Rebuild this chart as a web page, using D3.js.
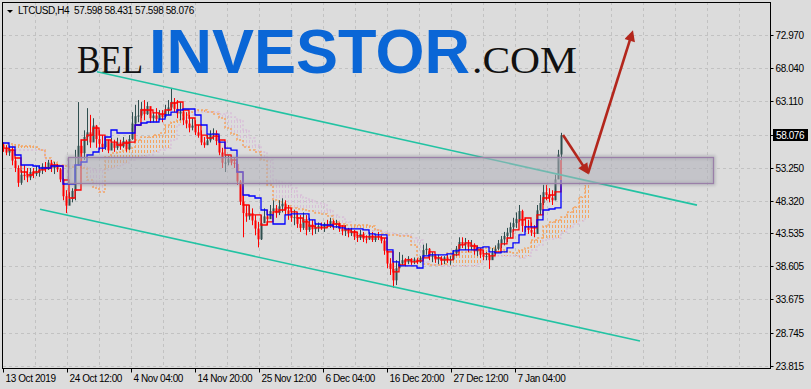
<!DOCTYPE html>
<html>
<head>
<meta charset="utf-8">
<script src="https://cdn.jsdelivr.net/npm/d3@7"></script>
<style>
  html, body { margin: 0; padding: 0; background: #dcdcdc; }
  svg { display: block; font-family: "Liberation Sans", Arial, sans-serif; }
  .axis text { font-size: 10px; letter-spacing: -0.4px; fill: #000; }
  .axis line { stroke: #000; }
</style>
</head>
<body>
<div id="chart"></div>
<script>
// ---- data ----
const symbolTitle = "LTCUSD,H4";
const lastBarOHLC = [57.598, 58.431, 57.598, 58.076];
const lastPrice = 58.076;
const priceTicks = [72.970, 68.040, 63.110, 53.250, 48.320, 43.535, 38.605, 33.675, 28.745, 23.815];
const timeLabels = ["13 Oct 2019", "24 Oct 12:00", "4 Nov 04:00", "14 Nov 20:00", "25 Nov 12:00",
  "6 Dec 04:00", "16 Dec 20:00", "27 Dec 12:00", "7 Jan 04:00"];
const barsPerLabel = 64;   // H4 bars between time labels
const barsPerGrid = 32;

// candles, one per 3 H4 bars
const candleStep = 3;
const firstOpen = 56.6;
const highs = [
  57.0,56.6,56.5,56.3,54.8,53.6,52.9,53.6,53.2,53.2,
  53.2,53.5,53.6,53.9,54.1,54.4,54.4,54.1,53.8,53.2,
  51.7,49.9,49.6,50.2,55.9,63.0,57.4,58.8,62.1,61.1,
  60.6,59.6,58.8,58.1,57.7,57.4,57.7,57.4,57.7,57.4,
  57.8,57.4,58.1,61.5,62.6,63.3,63.0,63.3,63.0,61.8,
  61.5,62.1,61.8,61.8,62.6,63.3,65.1,63.6,63.3,63.0,
  61.8,61.5,61.1,60.6,60.3,59.6,58.8,57.8,58.1,58.8,
  59.1,58.8,57.4,56.2,55.1,55.1,55.1,54.7,53.6,51.4,
  49.2,47.7,47.7,47.2,46.2,45.2,46.2,47.2,47.0,47.7,
  48.4,47.7,48.4,48.7,48.4,47.7,47.2,47.0,46.6,46.2,
  46.6,46.2,45.8,45.5,45.1,45.1,45.1,45.1,45.5,45.8,
  45.5,45.5,45.1,44.7,44.7,44.3,44.3,44.0,43.7,44.0,
  43.7,43.2,43.7,43.7,43.2,43.7,43.2,42.8,41.0,39.8,
  39.2,39.5,40.7,40.3,39.8,40.1,39.8,39.9,39.8,40.1,
  41.8,42.0,41.3,40.7,40.4,40.3,40.1,40.1,40.3,40.1,
  41.0,41.6,42.9,42.9,42.8,42.5,42.5,42.0,41.7,41.3,
  41.0,40.7,40.5,41.3,41.7,42.5,43.1,43.7,44.3,45.1,
  45.8,46.6,47.7,47.0,45.8,45.5,45.1,44.7,47.7,49.2,
  50.7,50.7,50.2,49.9,52.2,55.9,58.43];
const lows = [
  55.6,55.1,55.0,53.6,52.6,50.4,50.7,51.4,51.1,51.4,
  51.7,52.0,51.9,52.3,52.6,52.9,52.6,52.3,52.6,51.1,
  48.4,46.5,47.7,48.1,48.4,53.6,54.1,54.4,56.6,56.2,
  57.4,56.2,55.9,55.6,55.9,55.4,55.9,55.6,55.9,55.9,
  56.2,55.6,55.9,57.4,58.8,60.0,60.6,60.3,61.1,59.9,
  60.0,60.0,60.3,60.0,60.6,61.1,61.8,61.5,60.6,60.3,
  59.6,59.1,58.5,58.8,58.1,57.7,56.6,56.2,56.6,57.0,
  57.4,56.6,55.1,53.2,52.6,53.6,53.6,53.2,50.7,47.7,
  42.9,45.2,45.5,44.7,43.2,41.4,42.5,45.2,44.7,45.8,
  46.2,45.8,46.2,46.6,46.2,45.5,45.2,44.7,44.3,43.7,
  44.0,43.2,43.7,43.2,43.4,43.7,44.0,43.7,44.3,44.3,
  44.0,44.3,43.7,43.2,43.1,42.9,43.1,42.5,42.2,42.5,
  42.2,42.0,42.5,42.2,42.2,42.5,42.0,40.3,38.3,37.3,
  35.4,35.8,38.3,38.8,38.6,38.9,38.8,38.9,38.9,39.1,
  39.5,40.3,39.5,39.2,39.1,38.9,38.8,38.9,39.1,38.8,
  39.5,40.1,41.0,41.3,41.0,40.7,41.0,40.3,40.1,39.8,
  39.5,39.5,38.2,39.8,40.3,41.0,41.3,41.7,42.2,42.8,
  43.7,44.3,45.2,43.7,43.7,43.4,43.1,42.9,44.3,46.2,
  47.7,48.4,48.1,47.7,48.4,51.7,54.4];
const closes = [
  56.2,55.5,56.0,54.3,53.2,51.0,52.2,52.0,51.8,52.6,
  52.3,52.5,52.9,53.4,53.0,54.0,53.2,53.6,53.0,51.5,
  49.0,47.6,48.6,49.8,53.6,56.5,55.4,57.8,58.5,57.0,
  59.5,57.5,56.8,56.3,57.2,55.8,56.9,56.2,57.0,56.4,
  57.2,56.0,57.5,59.8,60.9,61.0,62.0,61.2,62.4,60.6,
  61.0,60.5,61.2,60.8,61.7,62.2,63.0,62.0,61.3,61.6,
  60.3,59.8,59.2,59.5,58.5,58.0,57.0,56.6,57.3,58.2,
  58.4,57.2,55.5,54.0,54.0,54.5,54.0,53.8,51.2,48.2,
  46.5,46.0,46.5,45.4,44.2,42.6,45.0,46.0,45.6,46.8,
  47.2,46.5,47.5,47.9,46.9,46.2,45.8,45.9,44.9,44.3,
  45.6,44.0,44.8,44.1,44.4,44.6,44.3,44.9,44.6,45.3,
  44.8,45.0,44.2,43.8,44.1,43.5,43.8,43.0,42.8,43.4,
  42.7,42.6,43.2,42.5,43.0,42.9,42.4,40.9,39.0,38.2,
  36.5,38.3,39.0,39.5,39.2,39.7,39.3,39.6,39.2,39.8,
  41.0,41.2,40.0,40.2,39.6,39.8,39.4,39.9,39.5,39.6,
  40.5,41.2,42.2,41.8,42.0,41.5,41.8,40.8,41.2,40.3,
  40.0,40.1,39.5,40.6,41.2,42.0,42.6,43.1,43.6,44.4,
  45.0,45.6,46.8,44.6,44.4,44.0,43.6,43.4,46.9,48.0,
  49.6,49.2,48.8,48.4,51.5,55.2,58.076];

// Ichimoku lines, one reading per 6 H4 bars
const lineStep = 6;
const tenkan = [
  56.17,55.87,54.69,52.61,52.16,52.61,52.91,53.20,53.65,53.50,
  51.42,48.74,49.93,57.36,58.10,59.15,58.10,57.36,57.06,56.62,
  56.92,57.06,59.59,61.82,61.82,61.38,61.23,61.82,62.86,63.01,
  61.82,60.63,59.59,58.10,57.66,57.95,57.36,55.13,54.39,52.61,
  47.70,46.22,46.22,44.73,45.18,46.67,46.96,47.26,46.67,45.77,
  45.18,44.58,44.29,44.29,44.58,44.88,44.58,43.99,43.69,43.10,
  42.95,42.95,42.95,42.80,40.72,37.75,38.79,39.53,39.24,39.39,
  39.83,40.72,39.83,39.53,39.53,40.28,41.76,42.06,41.61,41.02,
  40.43,40.13,40.72,41.91,42.80,43.99,45.48,45.77,44.29,46.22,
  48.74,49.19,49.64,54.39];
const kijun = [
  56.92,56.32,55.13,53.65,53.65,53.50,53.20,53.20,53.50,53.50,
  50.82,50.82,53.65,54.09,55.13,55.58,56.17,57.81,58.85,58.40,
  58.40,58.40,59.59,59.89,60.04,60.04,60.48,61.08,61.52,61.82,
  61.97,61.97,61.08,59.59,58.25,58.25,57.06,56.17,55.87,52.61,
  49.19,49.04,48.74,46.96,46.22,44.88,44.88,46.22,46.37,46.37,
  46.37,45.48,44.88,44.73,44.73,44.44,44.29,44.14,44.14,44.14,
  43.99,43.40,43.25,43.25,41.02,39.24,38.64,38.64,38.64,38.34,
  40.13,40.28,40.28,40.28,40.43,40.87,41.02,41.02,41.02,41.32,
  41.47,40.72,40.58,40.72,41.32,42.06,43.25,44.44,44.44,45.48,
  46.96,47.11,47.26,51.42];
const spanA = [
  56.77,56.77,56.62,56.47,56.47,56.32,55.87,54.69,54.09,53.65,
  53.50,53.35,53.65,53.20,51.42,50.23,49.64,54.84,55.43,55.58,
  55.87,56.17,57.36,57.81,57.81,58.10,58.40,59.59,60.04,60.33,
  61.08,61.52,61.82,61.82,61.52,61.23,60.63,59.15,58.25,57.36,
  56.32,55.87,55.58,54.39,50.68,48.45,48.15,47.56,47.26,47.11,
  46.96,46.81,46.52,46.37,46.07,45.18,44.88,44.73,44.73,44.73,
  44.73,44.58,43.99,43.40,43.25,43.25,43.10,43.10,41.76,39.83,
  38.94,38.79,38.79,38.94,40.58,40.72,40.72,40.72,41.02,41.32,
  41.32,41.32,41.32,41.02,40.72,40.58,41.02,41.32,42.50,42.80,
  44.58,45.18,45.48,45.92,46.67,47.41,48.89,50.68];
const spanB = [
  55.87,55.87,55.87,55.87,55.87,55.87,55.87,54.39,53.80,53.65,
  53.65,53.65,53.65,53.65,53.20,52.91,52.91,52.91,53.20,53.50,
  53.94,54.39,54.69,54.98,55.13,55.58,55.87,56.17,57.36,59.59,
  60.63,61.08,61.52,61.52,61.52,61.52,61.23,61.38,60.78,60.33,
  58.85,57.66,56.62,55.58,54.39,51.42,51.12,50.97,50.23,49.19,
  48.74,48.45,48.00,47.85,46.96,46.22,45.92,45.18,44.29,44.14,
  43.99,43.84,43.99,43.69,43.55,43.40,43.25,43.25,42.80,42.50,
  39.24,38.79,38.79,38.64,38.64,38.64,38.64,38.64,38.64,38.94,
  39.53,39.83,40.13,40.13,40.13,40.13,39.83,40.13,41.02,41.76,
  42.50,42.65,42.80,43.69,44.29,44.88,45.33,45.77];

// drawn objects: [bar, price]
const upperChannel = [[94, 67.52], [694, 47.68]];
const lowerChannel = [[37, 47.07], [637, 27.50]];
const zoneBars = [65, 710];
const zonePrices = [50.93, 54.79];
const arrowPaths = [
  [[560, 58.10], [584, 52.66]],
  [[585, 52.42], [629, 73.22]]
];

// ---- layout ----
const width = 811, height = 389;
const frame = {left: 3, top: 2, right: 771, bottom: 368};
const barsShown = frame.right - frame.left;   // one pixel per H4 bar

const x = d3.scaleLinear().domain([0, barsShown]).range([frame.left, frame.right]);
const y = d3.scaleLinear().domain([23.815, 72.970]).range([365.7, 35]);
const px = v => Math.round(v) + 0.5;

const svg = d3.select("#chart").append("svg")
  .attr("width", width)
  .attr("height", height);

svg.append("rect").attr("width", width).attr("height", height).attr("fill", "#dcdcdc");

const defs = svg.append("defs");
defs.append("clipPath").attr("id", "plot-clip")
  .append("rect")
  .attr("x", frame.left).attr("y", frame.top)
  .attr("width", frame.right - frame.left).attr("height", frame.bottom - frame.top);

const blur = defs.append("filter").attr("id", "zone-blur")
  .attr("x", "-5%").attr("y", "-40%").attr("width", "110%").attr("height", "180%");
blur.append("feGaussianBlur").attr("stdDeviation", 1.6);

defs.append("marker")
  .attr("id", "arrow-head")
  .attr("viewBox", "0 0 10 10")
  .attr("refX", 7).attr("refY", 5)
  .attr("markerWidth", 13).attr("markerHeight", 11)
  .attr("markerUnits", "userSpaceOnUse")
  .attr("orient", "auto")
  .append("path")
  .attr("d", "M0,0L10,5L0,10Z")
  .attr("fill", "#b3261c");

// grid
const grid = svg.append("g").attr("stroke", "#c2c2c2").attr("stroke-dasharray", "3,3");
grid.selectAll("line.h")
  .data(priceTicks.concat([lastPrice]))
  .join("line")
  .attr("x1", frame.left).attr("x2", frame.right)
  .attr("y1", d => px(y(d))).attr("y2", d => px(y(d)));
grid.selectAll("line.v")
  .data(d3.range(barsPerGrid, barsShown, barsPerGrid))
  .join("line")
  .attr("x1", d => px(x(d))).attr("x2", d => px(x(d)))
  .attr("y1", frame.top).attr("y2", frame.bottom);

// site logo
const logo = svg.append("g");
logo.append("text")
  .attr("x", 77).attr("y", 73)
  .attr("font-family", "'Liberation Serif', 'DejaVu Serif', serif")
  .attr("font-size", 40)
  .attr("textLength", 66).attr("lengthAdjust", "spacingAndGlyphs")
  .attr("fill", "#111")
  .text("BEL");
logo.append("text")
  .attr("x", 149).attr("y", 73)
  .attr("font-family", "'Liberation Sans', Arial, sans-serif")
  .attr("font-weight", 700)
  .attr("font-size", 63)
  .attr("textLength", 321).attr("lengthAdjust", "spacingAndGlyphs")
  .attr("fill", "#0a66d6")
  .text("INVESTOR");
logo.append("text")
  .attr("x", 472).attr("y", 73)
  .attr("font-family", "'Liberation Serif', 'DejaVu Serif', serif")
  .attr("font-size", 38)
  .attr("textLength", 105).attr("lengthAdjust", "spacingAndGlyphs")
  .attr("fill", "#111")
  .text(".COM");

const plot = svg.append("g").attr("clip-path", "url(#plot-clip)");

// Ichimoku cloud: dotted hatch between span A and span B,
// dashes lined up on a common vertical phase so rows of dots form
const hatch = d3.range(0, spanA.length * lineStep, 3).map(b => {
  const k = Math.floor(b / lineStep);
  return {bar: b, a: spanA[k], b: spanB[k]};
});
const dashPeriod = 5;
plot.append("g")
  .attr("stroke-dasharray", "3,2")
  .selectAll("line")
  .data(hatch)
  .join("line")
  .attr("x1", d => px(x(d.bar))).attr("x2", d => px(x(d.bar)))
  .attr("y1", d => Math.min(y(d.a), y(d.b)))
  .attr("y2", d => Math.max(y(d.a), y(d.b)))
  .attr("stroke-dashoffset", d => Math.min(y(d.a), y(d.b)) % dashPeriod)
  .attr("stroke", d => d.a >= d.b ? "#f4a460" : "#d8bfd8");

const stepLine = d3.line()
  .x((d, k) => x(k * lineStep))
  .y(d => y(d))
  .curve(d3.curveStepAfter);

plot.append("path").datum(spanB)
  .attr("d", stepLine).attr("fill", "none")
  .attr("stroke", "#d8bfd8").attr("stroke-width", 1.5).attr("stroke-dasharray", "2,2");
plot.append("path").datum(spanA)
  .attr("d", stepLine).attr("fill", "none")
  .attr("stroke", "#f4a460").attr("stroke-width", 1.5).attr("stroke-dasharray", "2,2");

// candles
const candles = closes.map((c, i) => ({
  bar: i * candleStep,
  o: i ? closes[i - 1] : firstOpen,
  h: highs[i], l: lows[i], c: c
}));
const candleColor = d => d.c >= d.o ? "#2f4f4f" : "#ff0000";

const cg = plot.append("g");
cg.selectAll("line")
  .data(candles)
  .join("line")
  .attr("x1", d => px(x(d.bar))).attr("x2", d => px(x(d.bar)))
  .attr("y1", d => y(d.h)).attr("y2", d => y(d.l))
  .attr("stroke", candleColor);
cg.selectAll("rect")
  .data(candles)
  .join("rect")
  .attr("x", d => Math.round(x(d.bar)) - 0.5)
  .attr("width", 2)
  .attr("y", d => y(Math.max(d.o, d.c)))
  .attr("height", d => Math.max(1, Math.abs(y(d.o) - y(d.c))))
  .attr("fill", candleColor);

// tenkan / kijun
plot.append("path").datum(tenkan)
  .attr("d", stepLine).attr("fill", "none")
  .attr("stroke", "#ff0000").attr("stroke-width", 1.3);
plot.append("path").datum(kijun)
  .attr("d", stepLine).attr("fill", "none")
  .attr("stroke", "#0000ff").attr("stroke-width", 1.3);

// trend channel
const trend = d3.line().x(d => x(d[0])).y(d => y(d[1]));
[upperChannel, lowerChannel].forEach(ch => {
  plot.append("path").datum(ch)
    .attr("d", trend)
    .attr("stroke", "#22c3a3").attr("stroke-width", 1.6).attr("fill", "none");
});

// resistance zone
const zx = x(zoneBars[0]), zw = x(zoneBars[1]) - x(zoneBars[0]);
const zy = y(zonePrices[1]), zh = y(zonePrices[0]) - y(zonePrices[1]);
plot.append("rect")
  .attr("x", px(zx)).attr("y", px(zy)).attr("width", Math.round(zw)).attr("height", Math.round(zh))
  .attr("fill", "none").attr("stroke", "#8a8a96").attr("stroke-width", 4)
  .attr("opacity", 0.45).attr("filter", "url(#zone-blur)");
plot.append("rect")
  .attr("x", px(zx)).attr("y", px(zy)).attr("width", Math.round(zw)).attr("height", Math.round(zh))
  .attr("fill", "#b0b0ba").attr("fill-opacity", 0.55)
  .attr("stroke", "#9a7fa8").attr("stroke-width", 1.2);

// arrows
arrowPaths.forEach(a => {
  plot.append("path").datum(a)
    .attr("d", trend)
    .attr("stroke", "#b3261c").attr("stroke-width", 2.6).attr("fill", "none")
    .attr("marker-end", "url(#arrow-head)");
});

// frame
svg.append("rect")
  .attr("x", frame.left - 0.5).attr("y", frame.top + 0.5)
  .attr("width", frame.right - frame.left).attr("height", frame.bottom - frame.top)
  .attr("fill", "none").attr("stroke", "#000");

// price axis
const yAxis = svg.append("g")
  .attr("class", "axis")
  .attr("transform", "translate(" + (frame.right - 0.5) + ",0)")
  .call(d3.axisRight(y).tickValues(priceTicks).tickFormat(d3.format(".3f")).tickSize(3).tickPadding(2));
yAxis.select(".domain").remove();
yAxis.selectAll(".tick").attr("transform", d => "translate(0," + px(y(d)) + ")");

// current price tag
const tagY = px(y(lastPrice));
svg.append("line")
  .attr("x1", frame.right - 0.5).attr("x2", frame.right + 2.5)
  .attr("y1", tagY).attr("y2", tagY).attr("stroke", "#000");
svg.append("rect")
  .attr("x", 773).attr("y", tagY - 6.5).attr("width", 35).attr("height", 12)
  .attr("fill", "#000");
svg.append("text")
  .attr("class", "axis")
  .attr("x", 776).attr("y", tagY).attr("dy", "0.34em")
  .attr("font-size", 10).attr("letter-spacing", "-0.4px")
  .attr("fill", "#fff")
  .text(d3.format(".3f")(lastPrice));

// time axis
const xAxis = svg.append("g")
  .attr("class", "axis")
  .attr("transform", "translate(0," + (frame.bottom + 0.5) + ")")
  .call(d3.axisBottom(x)
    .tickValues(timeLabels.map((t, i) => i * barsPerLabel))
    .tickFormat((d, i) => timeLabels[i])
    .tickSize(4).tickPadding(2));
xAxis.select(".domain").remove();
xAxis.selectAll(".tick").attr("transform", d => "translate(" + px(x(d)) + ",0)");
xAxis.selectAll(".tick text").attr("text-anchor", "start").attr("x", 2);

// title
svg.append("path").attr("d", "M7,10L13,10L10,13Z").attr("fill", "#000");
svg.append("text")
  .attr("x", 18).attr("y", 13.5)
  .attr("font-size", 10).attr("letter-spacing", "-0.4px")
  .style("white-space", "pre")
  .text(symbolTitle + "  " + lastBarOHLC.map(d3.format(".3f")).join(" "));
</script>
</body>
</html>
